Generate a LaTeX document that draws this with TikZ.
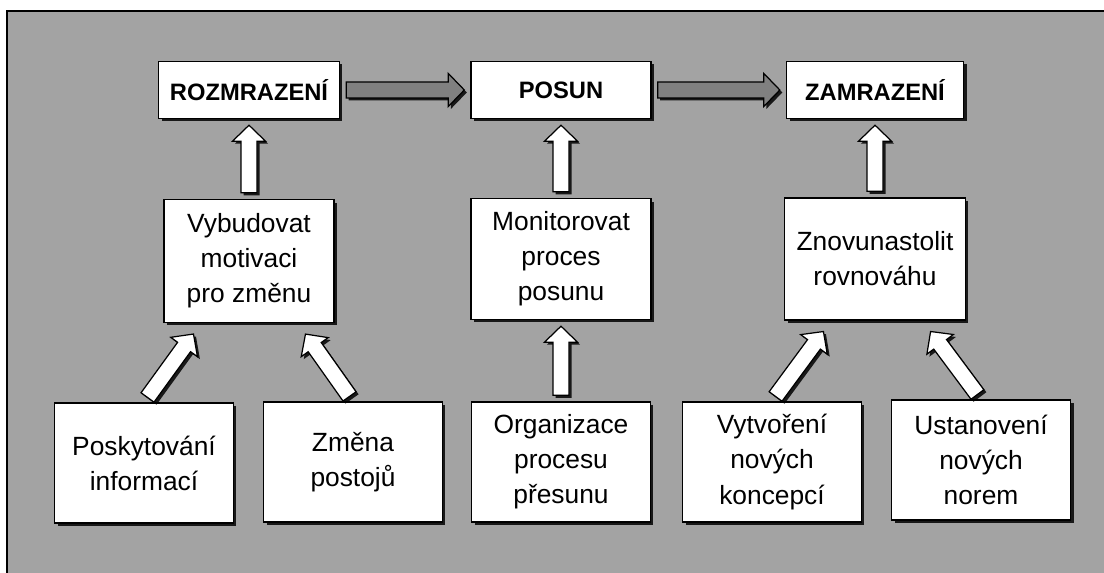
\documentclass[tikz,border=0pt]{standalone}
\usepackage{fontspec}
\setmainfont{Liberation Sans}
\usetikzlibrary{positioning,calc,shadows}

\newcommand{\bigarrow}[3][white]{%
  \coordinate (s) at ($(#2)!0.12cm!(#3)$);
  \coordinate (e) at ($(#3)!0.12cm!(#2)$);
  \coordinate (h) at ($(e)!0.32cm!(s)$);
  \draw[fatarrow,fill=#1] ($(s)!0.16cm!90:(e)$) -- ($(h)!0.16cm!90:(e)$)
     -- ($(h)!0.33cm!90:(e)$) -- (e) -- ($(h)!0.33cm!-90:(e)$)
     -- ($(h)!0.16cm!-90:(e)$) -- ($(s)!0.16cm!-90:(e)$) -- cycle;
}

\begin{document}
\begin{tikzpicture}[x=0.02cm,y=-0.02cm,
    box/.style={draw,fill=white,line width=0.8pt,align=center,inner sep=0pt,
                font=\fontsize{15}{20}\selectfont,
                minimum width=3.58cm,minimum height=2.4cm,
                drop shadow={shadow xshift=0.06cm,shadow yshift=-0.06cm,fill=black,opacity=0.85}},
    title/.style={box,font=\bfseries\fontsize{13.5}{20}\selectfont,minimum height=1.14cm},
    fatarrow/.style={draw,line width=0.7pt,line join=miter,
                drop shadow={shadow xshift=0.05cm,shadow yshift=-0.05cm,fill=black,opacity=0.85}}]

\useasboundingbox (0,0) rectangle (1104,573);
\fill[black!36] (7,11) rectangle (1104,573);
\draw[line width=0.8pt] (7,573) -- (7,11) -- (1104,11);

\node[title,minimum width=3.62cm] (rozm)  at (249,90) {ROZMRAZENÍ};
\node[title,minimum width=3.6cm]  (posun) at (561,90) {POSUN};
\node[title,minimum width=3.54cm] (zamr)  at (875,90) {ZAMRAZENÍ};

\node[box,minimum width=3.4cm,minimum height=2.46cm]  (vyb)  at (249,261) {Vybudovat\\motivaci\\pro změnu};
\node[box,minimum width=3.6cm,minimum height=2.42cm]  (mon)  at (561,259) {Monitorovat\\proces\\posunu};
\node[box,minimum width=3.62cm,minimum height=2.44cm] (znov) at (875,259) {Znovunastolit\\rovnováhu};

\node[box] (posk)  at (144,463) {Poskytování\\informací};
\node[box] (zmena) at (353,462) {Změna\\postojů};
\node[box] (org)   at (561,462) {Organizace\\procesu\\přesunu};
\node[box] (vytv)  at (772,462) {Vytvoření\\nových\\koncepcí};
\node[box] (ust)   at (981,460) {Ustanovení\\nových\\norem};

\coordinate (in1) at ($(vyb.south)+(-52,6)$);
\coordinate (in2) at ($(vyb.south)+(53,6)$);
\coordinate (in3) at ($(znov.south)+(-48,6)$);
\coordinate (in4) at ($(znov.south)+(52,6)$);

\bigarrow[black!50]{rozm.east}{posun.west}
\bigarrow[black!50]{posun.east}{zamr.west}

\bigarrow{vyb.north}{rozm.south}
\bigarrow{mon.north}{posun.south}
\bigarrow{znov.north}{zamr.south}

\bigarrow{posk.north}{in1}
\bigarrow{zmena.north}{in2}
\bigarrow{org.north}{mon.south}
\bigarrow{vytv.north}{in3}
\bigarrow{ust.north}{in4}
\end{tikzpicture}
\end{document}
